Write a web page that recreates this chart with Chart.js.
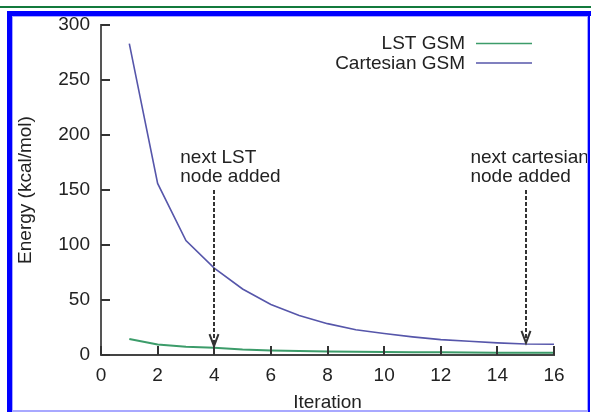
<!DOCTYPE html>
<html>
<head>
<meta charset="utf-8">
<script src="https://cdn.jsdelivr.net/npm/chart.js@4.4.1/dist/chart.umd.min.js"></script>
<style>
  html, body { margin: 0; padding: 0; background: #fff; }
  #wrap { position: relative; width: 591px; height: 412px; }
</style>
</head>
<body>
<div id="wrap"><canvas id="energyChart" width="591" height="412"></canvas></div>
<script>
// data
const iterations = [1, 2, 3, 4, 5, 6, 7, 8, 9, 10, 11, 12, 13, 14, 15, 16];
const lstGsm = [14.5, 9.5, 7.5, 6.5, 5, 4.2, 3.6, 3.2, 3, 2.7, 2.5, 2.4, 2.2, 2.1, 2, 2];
const cartesianGsm = [283, 156, 104, 79, 60, 46, 36, 28.5, 23, 19.5, 16.5, 14, 12.5, 11, 10, 9.8];
const seriesLabels = ["LST GSM", "Cartesian GSM"];
const seriesColors = ["#3c9c6a", "#5656aa"];

// "node added" notes (x = iteration, y = energy)
const noteText = [["next LST", "node added"], ["next cartesian", "node added"]];
const noteTextX = [2.8, 13.05];
const noteArrowX = [4, 15];
const noteArrowTip = [8, 11];

const FONT = "'Liberation Sans', Arial, Helvetica, sans-serif";
Chart.defaults.font.family = FONT;
Chart.defaults.color = "#222";

const ctx = document.getElementById("energyChart").getContext("2d");

const extras = {
  id: "extras",
  afterDraw(chart) {
    const c = chart.ctx;
    const xs = chart.scales.x, ys = chart.scales.y;
    const area = chart.chartArea;
    c.save();

    // inward tick marks
    c.strokeStyle = "#333";
    c.lineWidth = 2;
    c.beginPath();
    xs.ticks.forEach(t => {
      const px = Math.round(xs.getPixelForValue(t.value));
      c.moveTo(px, area.bottom);
      c.lineTo(px, area.bottom - 9);
    });
    ys.ticks.forEach(t => {
      const py = Math.round(ys.getPixelForValue(t.value));
      c.moveTo(area.left, py);
      c.lineTo(area.left + 9, py);
    });
    c.stroke();

    // legend, text on the left of the sample line
    c.font = "19px " + FONT;
    c.textAlign = "right";
    c.textBaseline = "middle";
    chart.data.datasets.forEach((ds, i) => {
      const y = 44 + i * 19.5;
      c.fillStyle = "#222";
      c.fillText(ds.label, 465, y);
      c.strokeStyle = ds.borderColor;
      c.lineWidth = 1.6;
      c.beginPath();
      c.moveTo(476, y - 0.5);
      c.lineTo(532, y - 0.5);
      c.stroke();
    });

    // notes with dashed arrows
    c.textAlign = "left";
    noteText.forEach((lines, i) => {
      const tx = xs.getPixelForValue(noteTextX[i]);
      const ty = ys.getPixelForValue(179);
      c.fillStyle = "#222";
      lines.forEach((s, k) => c.fillText(s, tx, ty + k * 19));
      const ax = Math.round(xs.getPixelForValue(noteArrowX[i]));
      const top = ys.getPixelForValue(150);
      const tip = ys.getPixelForValue(noteArrowTip[i]);
      c.strokeStyle = "#333";
      c.lineWidth = 2;
      c.setLineDash([4, 2]);
      c.beginPath();
      c.moveTo(ax, top);
      c.lineTo(ax, tip - 2);
      c.stroke();
      c.setLineDash([]);
      c.beginPath();
      c.moveTo(ax - 4.5, tip - 12);
      c.lineTo(ax, tip);
      c.lineTo(ax + 4.5, tip - 12);
      c.stroke();
    });

    // page frame
    c.fillStyle = "#137a3c";
    c.fillRect(0, 6, 591, 2);
    c.fillStyle = "#0000ff";
    c.fillRect(7, 11, 584, 5);
    c.fillRect(7, 11, 5, 401);
    c.fillRect(588, 11, 2, 401);
    c.fillStyle = "#a8a8ff";
    c.fillRect(12, 16, 576, 1);
    c.fillRect(12, 16, 1, 396);
    c.fillRect(587, 16, 1, 396);
    c.fillRect(12, 410, 576, 2);
    c.restore();
  }
};

new Chart(ctx, {
  type: "line",
  data: {
    datasets: [
      {
        label: seriesLabels[0],
        data: iterations.map((x, i) => ({ x: x, y: lstGsm[i] })),
        borderColor: seriesColors[0],
        borderWidth: 2,
        pointRadius: 0,
        tension: 0,
      },
      {
        label: seriesLabels[1],
        data: iterations.map((x, i) => ({ x: x, y: cartesianGsm[i] })),
        borderColor: seriesColors[1],
        borderWidth: 1.6,
        pointRadius: 0,
        tension: 0,
      },
    ],
  },
  options: {
    responsive: false,
    animation: false,
    layout: { padding: { left: 14, top: 25, right: 37, bottom: 0 } },
    plugins: {
      legend: { display: false },
      tooltip: { enabled: false },
    },
    scales: {
      x: {
        type: "linear",
        min: 0,
        max: 16,
        ticks: { stepSize: 2, padding: 9, font: { size: 19 }, maxRotation: 0 },
        grid: { display: true, drawOnChartArea: false, drawTicks: false },
        border: { display: true, color: "#444", width: 2 },
        title: { display: true, text: "Iteration", font: { size: 19 }, padding: { top: 0, bottom: -2 } },
        afterFit: (scale) => { scale.height = 57; },
      },
      y: {
        min: 0,
        max: 300,
        ticks: { stepSize: 50, padding: 11, font: { size: 19 } },
        grid: { display: true, drawOnChartArea: false, drawTicks: false },
        border: { display: true, color: "#555", width: 2 },
        title: { display: true, text: "Energy (kcal/mol)", font: { size: 19 }, padding: { top: 0, bottom: 0 } },
        afterFit: (scale) => { scale.width = 87; },
      },
    },
  },
  plugins: [extras],
});
</script>
</body>
</html>
